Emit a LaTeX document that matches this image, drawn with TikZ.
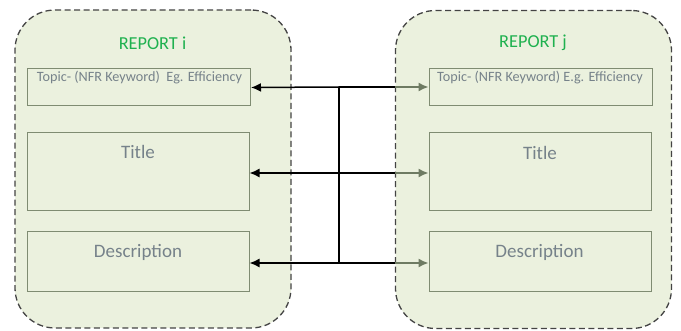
\documentclass[tikz,border=0pt]{standalone}
\usepackage{fontspec}
\setmainfont{Carlito}
\usetikzlibrary{arrows.meta,calc}

\definecolor{panelfill}{HTML}{EBF1DE}
\definecolor{panelline}{HTML}{444444}
\definecolor{boxline}{HTML}{7F8C72}
\definecolor{headgreen}{HTML}{1FB14F}
\definecolor{boxtext}{HTML}{76828A}
\definecolor{linkgray}{HTML}{6E7B62}

\tikzset{
  panel/.style={draw=panelline, fill=panelfill, line width=1.3pt,
    dash pattern=on 6pt off 3.5pt, rounded corners=40pt,
    minimum width=276pt, minimum height=318pt, inner sep=0pt},
  fieldbox/.style={draw=boxline, fill=panelfill, line width=1pt,
    minimum width=223pt, inner sep=0pt},
  head/.style={text=headgreen, font=\fontsize{18.3}{21}\selectfont, inner sep=0pt},
  fieldtxt/.style={text=boxtext, font=\fontsize{19}{22}\selectfont, inner sep=0pt},
  topictxt/.style={text=boxtext, font=\fontsize{14.2}{16}\selectfont, inner sep=0pt},
  link/.style={line width=1.5pt, black},
  linkarrow/.style={link, -{Latex[length=10pt,width=9pt]}},
  grayarrow/.style={line width=1.5pt, linkgray, -{Latex[length=10pt,width=9pt]}},
}

\begin{document}
\begin{tikzpicture}[x=1pt,y=-1pt]
\useasboundingbox (0,0) rectangle (681,331);

% two report panels
\node[panel] (pi) at (153,169) {};
\node[panel] (pj) at (533.5,169.5) {};

\node[head] (hi) at (152.5,43) {REPORT i};
\node[head] (hj) at (533,43) {REPORT j};

% fields of report i
\node[fieldbox, minimum height=37pt] (topi) at (139,87.5) {};
\node[fieldbox, minimum width=222pt, minimum height=78pt] (titi) at (138,172) {};
\node[fieldbox, minimum width=222pt, minimum height=60pt] (desi) at (138,262) {};
\node[topictxt] (ttopi) at (139.5,78) {Topic- (NFR Keyword)\ \ Eg. Efficiency};
\node[fieldtxt] (ttiti) at (138,152) {Title};
\node[fieldtxt] (tdesi) at (138,252) {Description};

% fields of report j
\node[fieldbox, minimum height=37pt] (topj) at (540.5,87.5) {};
\node[fieldbox, minimum width=222pt, minimum height=78pt] (titj) at (540,172) {};
\node[fieldbox, minimum width=222pt, minimum height=60pt] (desj) at (540,262) {};
\node[topictxt] (ttopj) at (540,78) {Topic- (NFR Keyword) E.g. Efficiency};
\node[fieldtxt] (ttitj) at (540,153) {Title};
\node[fieldtxt] (tdesj) at (539.5,252) {Description};

% central trunk
\coordinate (h1) at (339,87);
\coordinate (h2) at (339,173);
\coordinate (h3) at (339,263);
\draw[link] (h1) -- (h3);

% links into report i
\draw[linkarrow] (h1) -- (topi.east);
\draw[linkarrow] (h2) -- (h2 -| titi.east);
\draw[linkarrow] (h3) -- (h3 -| desi.east);

% links into report j
\coordinate (e1) at (h1 -| pj.west);
\coordinate (e2) at (h2 -| pj.west);
\coordinate (e3) at (h3 -| pj.west);
\draw[link] (h1) -- (e1);
\draw[link] (h2) -- (e2);
\draw[link] (h3) -- (e3);
\draw[grayarrow] (e1) -- (e1 -| topj.west);
\draw[grayarrow] (e2) -- (e2 -| titj.west);
\draw[grayarrow] (e3) -- (e3 -| desj.west);
\end{tikzpicture}
\end{document}
